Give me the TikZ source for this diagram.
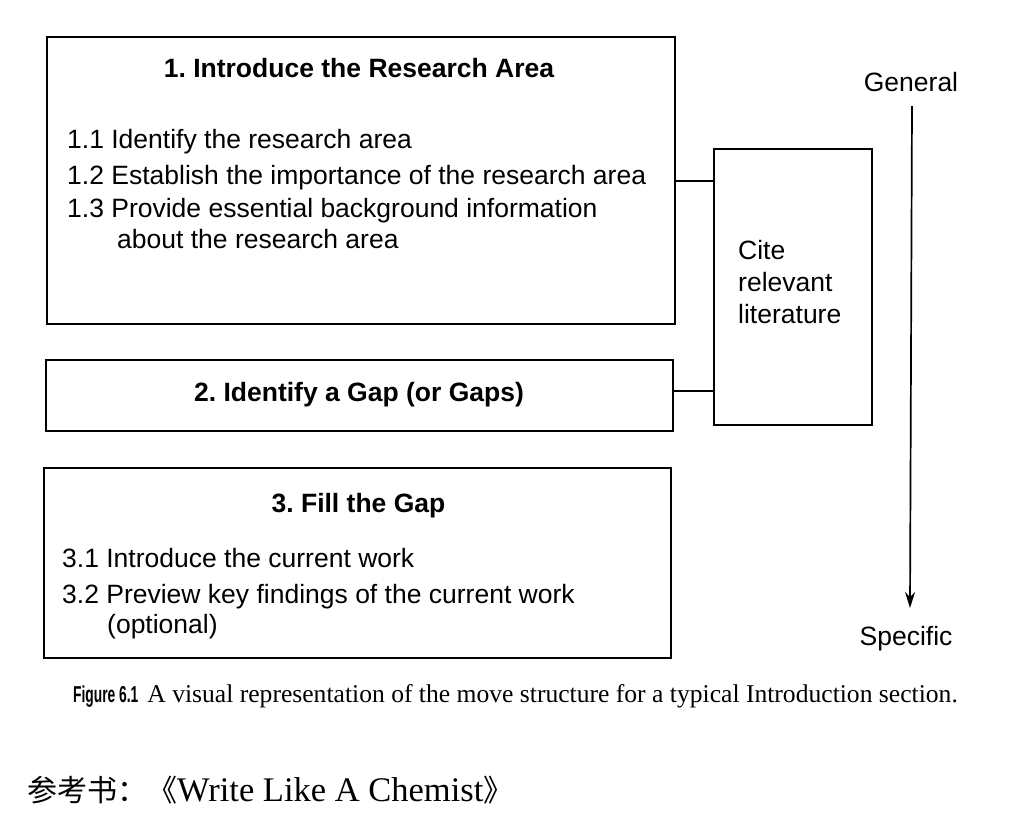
\documentclass[tikz,border=0pt]{standalone}
\usepackage{fontspec}
\setmainfont{Liberation Sans}
\newfontfamily\seriffont{Liberation Serif}
\newfontfamily\figfont[FakeStretch=0.6]{Liberation Sans}
\newfontfamily\cjk{Noto Sans CJK SC}
\usetikzlibrary{arrows.meta}
\frenchspacing
\begin{document}
\begin{tikzpicture}[x=1pt,y=-1pt,
  boxshape/.style={draw, line width=1.7pt, inner sep=0pt},
  txt/.style={inner sep=0pt, anchor=base west, font=\fontsize{26.5}{30}\selectfont},
  ttl/.style={inner sep=0pt, anchor=base, font=\fontsize{26.5}{30}\selectfont\bfseries},
  link/.style={line width=1.7pt}]
\useasboundingbox (0,0) rectangle (1012,828);
% boxes
\node[boxshape, minimum width=628pt, minimum height=287pt] (b1) at (361,180.5) {};
\node[boxshape, minimum width=627pt, minimum height=71pt] (b2) at (359.5,395.5) {};
\node[boxshape, minimum width=627pt, minimum height=190pt] (b3) at (357.5,563) {};
\node[boxshape, minimum width=158pt, minimum height=276pt] (cite) at (793,287) {};
% box 1 text
\node[ttl] (t1) at (359,77) {1. Introduce the Research Area};
\node[txt] (l11) at (67,148) {1.1 Identify the research area};
\node[txt] (l12) at (67,184) {1.2 Establish the importance of the research area};
\node[txt] (l13) at (67,217) {1.3 Provide essential background information};
\node[txt] (l13b) at (117,248) {about the research area};
% box 2 text
\node[ttl] (t2) at (359,401) {2. Identify a Gap (or Gaps)};
% box 3 text
\node[ttl] (t3) at (358.5,512) {3. Fill the Gap};
\node[txt] (l31) at (62,567) {3.1 Introduce the current work};
\node[txt] (l32) at (62,603) {3.2 Preview key findings of the current work};
\node[txt] (l32b) at (107,633) {(optional)};
% cite text
\node[txt] (c1) at (738,259) {Cite};
\node[txt] (c2) at (738,291) {relevant};
\node[txt] (c3) at (738,323) {literature};
% connectors
\coordinate (j1) at (0,181);
\coordinate (j2) at (0,391);
\draw[link] (b1.east |- j1) -- (cite.west |- j1);
\draw[link] (b2.east |- j2) -- (cite.west |- j2);
% general -> specific
\node[inner sep=0pt, anchor=base, font=\fontsize{26.5}{30}\selectfont] (gen) at (911,91) {General};
\node[inner sep=0pt, anchor=base, font=\fontsize{26.5}{30}\selectfont] (spec) at (906,645) {Specific};
\coordinate (a1) at (912,106);
\coordinate (a2) at (910,608);
\draw[line width=1.7pt, -{Stealth[length=16pt, width=10pt]}] (a1) -- (a2);
% caption
\node[inner sep=0pt, anchor=base west] (cap) at (73,702)
  {{\figfont\bfseries\fontsize{23}{26}\selectfont Figure 6.1}\hspace{9pt}{\seriffont\fontsize{25.6}{30}\selectfont A visual representation of the move structure for a typical Introduction section.}};
% reference book
\node[inner sep=0pt, anchor=base west] (ref) at (27,801)
  {{\cjk\fontsize{30}{34}\selectfont 参考书：《}{\seriffont\fontsize{34.5}{38}\selectfont Write Like A Chemist}{\cjk\fontsize{30}{34}\selectfont 》}};
\end{tikzpicture}
\end{document}
